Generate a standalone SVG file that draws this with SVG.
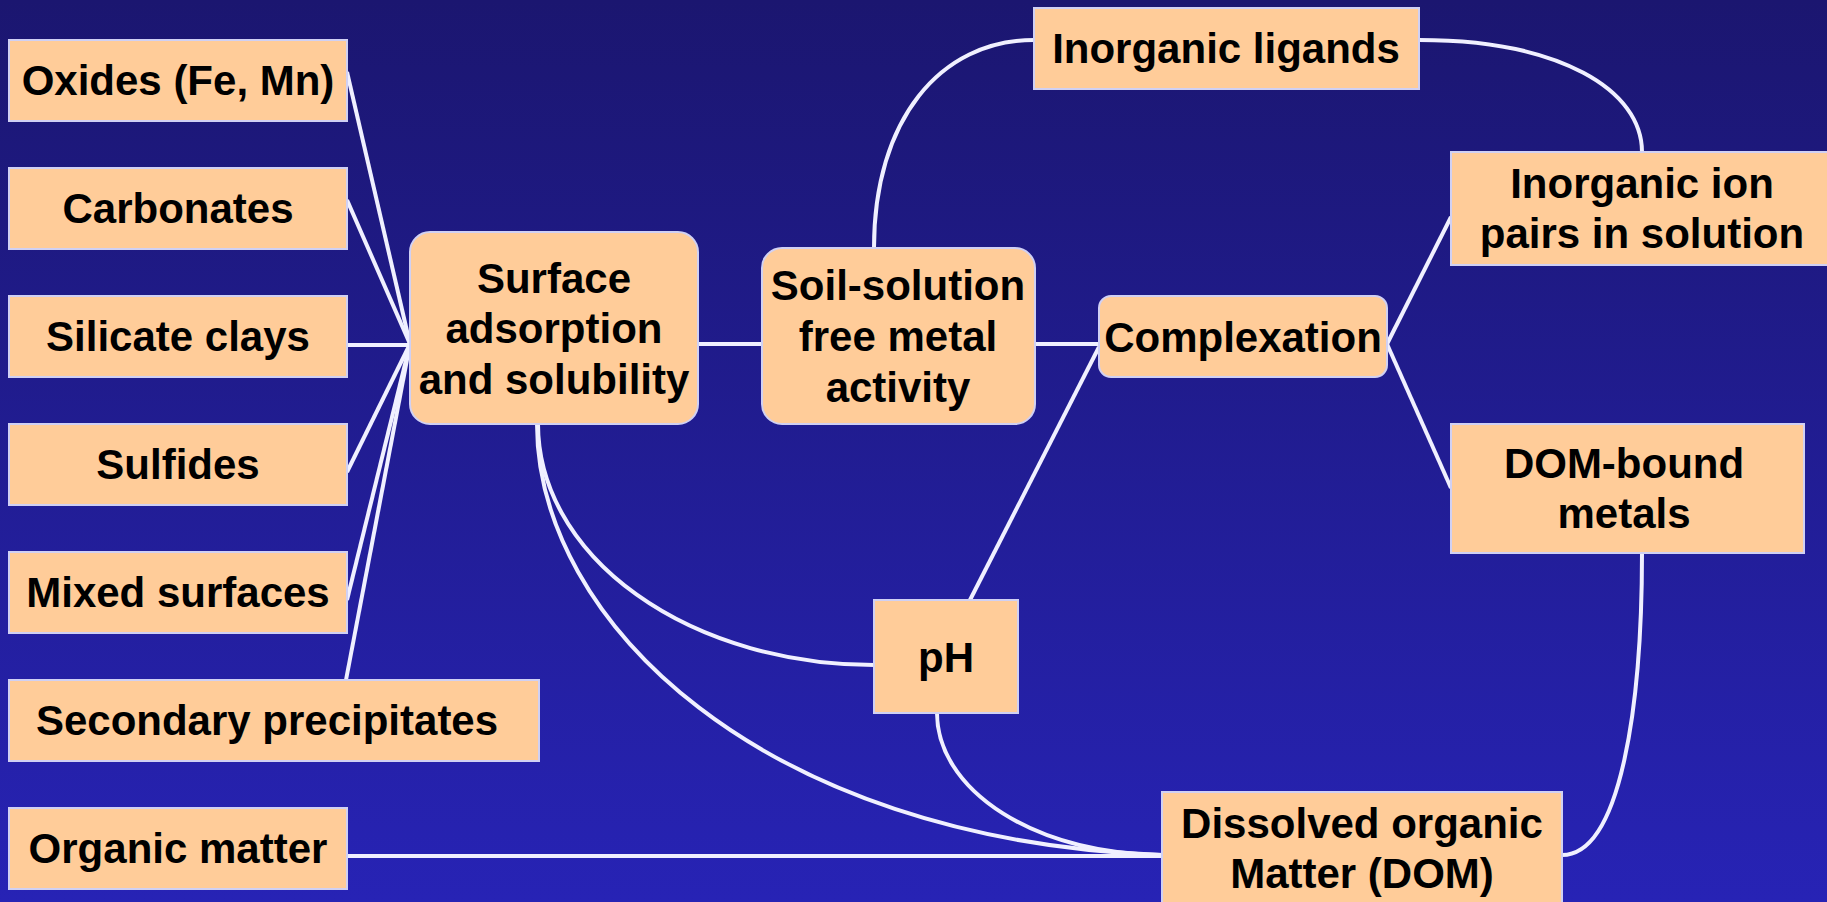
<svg xmlns="http://www.w3.org/2000/svg" width="1827" height="902" viewBox="0 0 1827 902">
<defs>
<linearGradient id="bg" x1="0" y1="0" x2="0" y2="1">
<stop offset="0" stop-color="#1B1670"/>
<stop offset="1" stop-color="#2723B5"/>
</linearGradient>
<style>
.box{fill:#FFCC99;stroke:#D0D0F4;stroke-width:2}
.t{font-family:"Liberation Sans",Arial,sans-serif;font-weight:bold;font-size:42px;fill:#000;text-anchor:middle}
.c{fill:none;stroke:#F0F0FF;stroke-width:4}
</style>
</defs>
<rect x="0" y="0" width="1827" height="902" fill="url(#bg)"/>
<g id="connectors">
<path class="c" d="M347,72 L410,344"/>
<path class="c" d="M347,200 L410,344"/>
<path class="c" d="M347,345 L410,345"/>
<path class="c" d="M347,472 L410,344"/>
<path class="c" d="M347,600 L410,344"/>
<path class="c" d="M346,680 L410,344"/>
<path class="c" d="M698,344 L762,344"/>
<path class="c" d="M1035,344 L1099,344"/>
<path class="c" d="M874,248 C874,120 940,40 1034,40"/>
<path class="c" d="M1419,40 C1560,40 1642,90 1642,152"/>
<path class="c" d="M1387,344 L1451,217"/>
<path class="c" d="M1387,344 L1451,488"/>
<path class="c" d="M1099,347 L970,600"/>
<path class="c" d="M538,424 A336,241 0 0 0 874,665"/>
<path class="c" d="M537,424 C537,620 760,840 1162,855"/>
<path class="c" d="M937,713 A225,142 0 0 0 1162,855"/>
<path class="c" d="M347,856 L1162,856"/>
<path class="c" d="M1642,553 C1642,700 1622,855 1562,855"/>
</g>
<g id="oxides"><rect class="box" x="9" y="40" width="338" height="81"/><text class="t" x="178" y="95">Oxides (Fe, Mn)</text></g>
<g id="carbonates"><rect class="box" x="9" y="168" width="338" height="81"/><text class="t" x="178" y="223">Carbonates</text></g>
<g id="silicate"><rect class="box" x="9" y="296" width="338" height="81"/><text class="t" x="178" y="351">Silicate clays</text></g>
<g id="sulfides"><rect class="box" x="9" y="424" width="338" height="81"/><text class="t" x="178" y="479">Sulfides</text></g>
<g id="mixed"><rect class="box" x="9" y="552" width="338" height="81"/><text class="t" x="178" y="607">Mixed surfaces</text></g>
<g id="secondary"><rect class="box" x="9" y="680" width="530" height="81"/><text class="t" x="267" y="735">Secondary precipitates</text></g>
<g id="organic"><rect class="box" x="9" y="808" width="338" height="81"/><text class="t" x="178" y="863">Organic matter</text></g>
<g id="surface"><rect class="box" x="410" y="232" width="288" height="192" rx="20"/><text class="t" x="554" y="293">Surface</text><text class="t" x="554" y="343">adsorption</text><text class="t" x="554" y="394">and solubility</text></g>
<g id="soil"><rect class="box" x="762" y="248" width="273" height="176" rx="20"/><text class="t" x="898" y="300">Soil-solution</text><text class="t" x="898" y="351">free metal</text><text class="t" x="898" y="402">activity</text></g>
<g id="complexation"><rect class="box" x="1099" y="296" width="288" height="81" rx="12"/><text class="t" x="1243" y="352">Complexation</text></g>
<g id="ligands"><rect class="box" x="1034" y="8" width="385" height="81"/><text class="t" x="1226" y="63">Inorganic ligands</text></g>
<g id="ionpairs"><rect class="box" x="1451" y="152" width="382" height="113"/><text class="t" x="1642" y="198">Inorganic ion</text><text class="t" x="1642" y="248">pairs in solution</text></g>
<g id="dombound"><rect class="box" x="1451" y="424" width="353" height="129"/><text class="t" x="1624" y="478">DOM-bound</text><text class="t" x="1624" y="528">metals</text></g>
<g id="ph"><rect class="box" x="874" y="600" width="144" height="113"/><text class="t" x="946" y="672">pH</text></g>
<g id="dom"><rect class="box" x="1162" y="792" width="400" height="114"/><text class="t" x="1362" y="838">Dissolved organic</text><text class="t" x="1362" y="888">Matter (DOM)</text></g>
</svg>
